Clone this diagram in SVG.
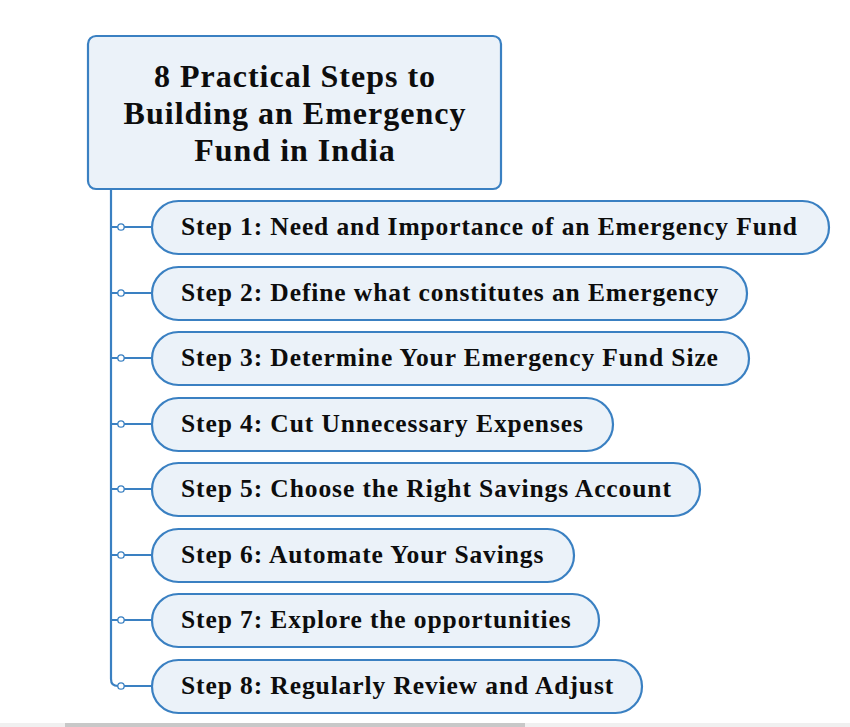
<svg xmlns="http://www.w3.org/2000/svg" width="850" height="727" viewBox="0 0 850 727">
<style>
.box{fill:#ebf2f9;stroke:#3a80c2;stroke-width:2.2}
.t{font-family:"Liberation Serif","Times New Roman",serif;font-weight:bold;fill:#0d0d0d}
.st{font-size:25.5px;letter-spacing:0.9px}
.tt{font-size:32px;letter-spacing:1px;text-anchor:middle}
.ln{stroke:#3a80c2;stroke-width:2.2;fill:none}
.dot{fill:#fff;stroke:#3a80c2;stroke-width:1.3}
</style>
<rect width="850" height="727" fill="#fff"/>
<g id="connectors">
<path class="ln" d="M111 189 V679 Q111 686 118 686"/>
<path class="ln" d="M111 227 H152 M111 293 H152 M111 358 H152 M111 424 H152 M111 489 H152 M111 555 H152 M111 620 H152 M118 686 H152"/>
<circle class="dot" cx="121" cy="227" r="3.2"/>
<circle class="dot" cx="121" cy="293" r="3.2"/>
<circle class="dot" cx="121" cy="358" r="3.2"/>
<circle class="dot" cx="121" cy="424" r="3.2"/>
<circle class="dot" cx="121" cy="489" r="3.2"/>
<circle class="dot" cx="121" cy="555" r="3.2"/>
<circle class="dot" cx="121" cy="620" r="3.2"/>
<circle class="dot" cx="121" cy="686" r="3.2"/>
</g>
<g id="root">
<rect class="box" x="88" y="36" width="413" height="153" rx="8"/>
<text class="t tt" x="295" y="87">8 Practical Steps to</text>
<text class="t tt" x="295" y="124">Building an Emergency</text>
<text class="t tt" x="295" y="161">Fund in India</text>
</g>
<g id="step1"><rect class="box" x="152" y="201" width="677" height="53" rx="26.5"/><text class="t st" x="181" y="235">Step 1: Need and Importance of an Emergency Fund</text></g>
<g id="step2"><rect class="box" x="152" y="267" width="595" height="53" rx="26.5"/><text class="t st" x="181" y="301">Step 2: Define what constitutes an Emergency</text></g>
<g id="step3"><rect class="box" x="152" y="332" width="597" height="53" rx="26.5"/><text class="t st" x="181" y="366">Step 3: Determine Your Emergency Fund Size</text></g>
<g id="step4"><rect class="box" x="152" y="398" width="461" height="53" rx="26.5"/><text class="t st" x="181" y="432">Step 4: Cut Unnecessary Expenses</text></g>
<g id="step5"><rect class="box" x="152" y="463" width="548" height="53" rx="26.5"/><text class="t st" x="181" y="497">Step 5: Choose the Right Savings Account</text></g>
<g id="step6"><rect class="box" x="152" y="529" width="422" height="53" rx="26.5"/><text class="t st" x="181" y="563">Step 6: Automate Your Savings</text></g>
<g id="step7"><rect class="box" x="152" y="594" width="447" height="53" rx="26.5"/><text class="t st" x="181" y="628">Step 7: Explore the opportunities</text></g>
<g id="step8"><rect class="box" x="152" y="660" width="490" height="53" rx="26.5"/><text class="t st" x="181" y="694">Step 8: Regularly Review and Adjust</text></g>
<rect x="0" y="723" width="850" height="4" fill="#f0f0f0"/>
<rect x="65" y="723" width="460" height="4" fill="#c8c8c8"/>
</svg>
